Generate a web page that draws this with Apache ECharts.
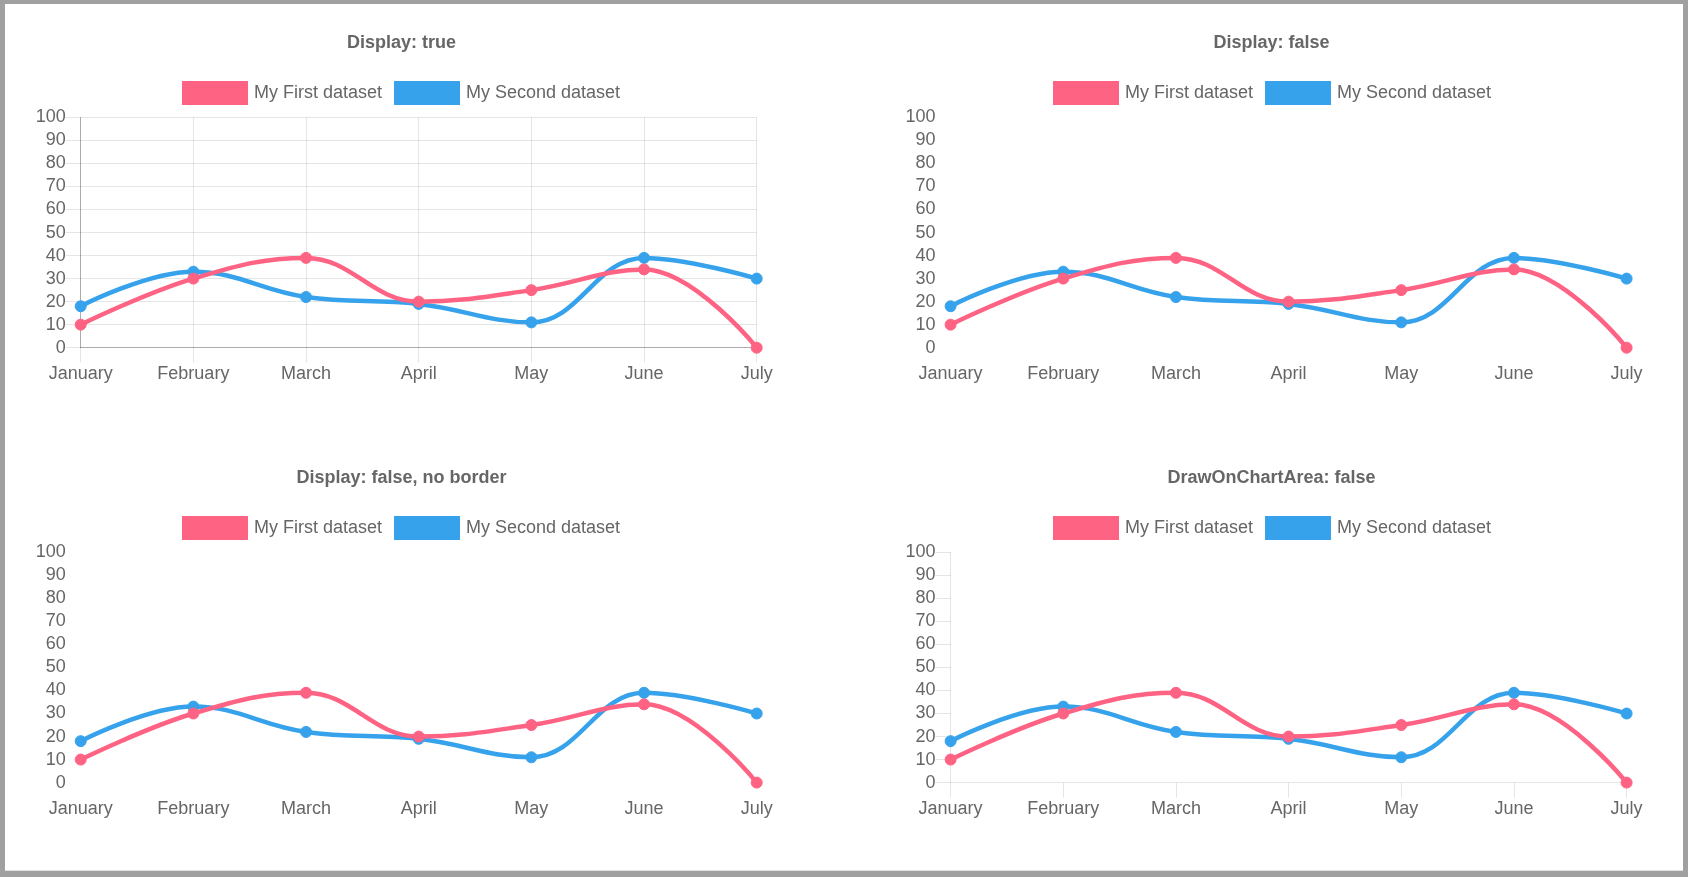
<!DOCTYPE html>
<html>
<head>
<meta charset="utf-8">
<script src="https://cdn.jsdelivr.net/npm/echarts@6/dist/echarts.min.js"></script>
<style>
  html, body { margin: 0; padding: 0; width: 1688px; height: 877px; background: #a0a0a0; overflow: hidden; }
  #frame { position: absolute; left: 5px; top: 4px; width: 1678px; height: 866px; background: #fff; border-bottom: 1px solid #dfe3e8; }
  #chart { position: absolute; left: 0; top: 0; width: 1688px; height: 877px; }
</style>
</head>
<body>
<div id="frame"></div>
<div id="chart"></div>
<script>
// ---- data ----
const months = ['January', 'February', 'March', 'April', 'May', 'June', 'July'];
const firstDataset = [10, 30, 39, 20, 25, 34, 0];
const secondDataset = [18, 33, 22, 19, 11, 39, 30];
const seriesNames = ['My First dataset', 'My Second dataset'];
const chartTitles = ['Display: true', 'Display: false', 'Display: false, no border', 'DrawOnChartArea: false'];
const yMin = 0, yMax = 100, yStep = 10;

// ---- layout / style ----
const FONT = '"Liberation Sans", Arial, Helvetica, sans-serif';
const TEXT = '#666';
const PINK = 'rgb(255, 99, 132)';
const BLUE = 'rgb(54, 162, 235)';
const GRID = 'rgba(0,0,0,0.1)';
const ZERO = 'rgba(0,0,0,0.25)';
const colLeft = [80.7, 950.6];
const rowTop = [117.4, 552.3];
const plotW = 676, plotH = 230.3;
const titleCx = [401.5, 1271.5];
const titleCy = [44, 479];
const legendLeft = [182, 1053];
const legendTop = [81, 516];

const panels = [
  { col: 0, row: 0, mode: 'full' },
  { col: 1, row: 0, mode: 'none' },
  { col: 0, row: 1, mode: 'none' },
  { col: 1, row: 1, mode: 'ticks' }
];

const option = {
  animation: false,
  textStyle: { fontFamily: FONT },
  title: panels.map((p, i) => ({
    text: chartTitles[i],
    left: titleCx[p.col],
    top: titleCy[p.row] - 10,
    textAlign: 'center',
    padding: 0,
    textStyle: { fontSize: 18, fontWeight: 'bold', color: TEXT, fontFamily: FONT }
  })),
  legend: panels.map(p => ({
    left: legendLeft[p.col],
    top: legendTop[p.row],
    padding: 0,
    itemWidth: 64,
    itemHeight: 22,
    itemGap: 12,
    icon: 'rect',
    data: seriesNames,
    textStyle: { fontSize: 18, color: TEXT, fontFamily: FONT, padding: [0, 0, 0, 2] }
  })),
  grid: panels.map(p => ({
    left: colLeft[p.col], top: rowTop[p.row], width: plotW, height: plotH, containLabel: false
  })),
  xAxis: panels.map((p, i) => ({
    type: 'category',
    gridIndex: i,
    data: months,
    boundaryGap: false,
    axisLine: { show: p.mode !== 'none', lineStyle: { color: p.mode === 'full' ? ZERO : GRID, width: 1 } },
    axisTick: { show: p.mode !== 'none', length: 15, lineStyle: { color: GRID, width: 1 } },
    splitLine: { show: p.mode === 'full', lineStyle: { color: GRID, width: 1 } },
    axisLabel: { interval: 0, margin: 17, fontSize: 18, color: TEXT, fontFamily: FONT }
  })),
  yAxis: panels.map((p, i) => ({
    type: 'value',
    gridIndex: i,
    min: yMin, max: yMax, interval: yStep,
    axisLine: { show: p.mode !== 'none', lineStyle: { color: p.mode === 'full' ? ZERO : GRID, width: 1 } },
    axisTick: { show: p.mode !== 'none', length: 15, lineStyle: { color: GRID, width: 1 } },
    splitLine: { show: p.mode === 'full', lineStyle: { color: GRID, width: 1 } },
    axisLabel: { margin: 15, fontSize: 18, color: TEXT, fontFamily: FONT }
  })),
  series: []
};

panels.forEach((p, i) => {
  [[seriesNames[0], firstDataset, PINK, 4], [seriesNames[1], secondDataset, BLUE, 3]].forEach(([name, data, color, z]) => {
    option.series.push({
      name, type: 'line', xAxisIndex: i, yAxisIndex: i, data,
      smooth: 0.4, z,
      symbol: 'circle', symbolSize: 11, showSymbol: true,
      lineStyle: { color, width: 4.5 },
      itemStyle: { color, borderColor: color, borderWidth: 1 }
    });
  });
});

const chart = echarts.init(document.getElementById('chart'), null, { renderer: 'canvas' });
chart.setOption(option);
</script>
</body>
</html>
